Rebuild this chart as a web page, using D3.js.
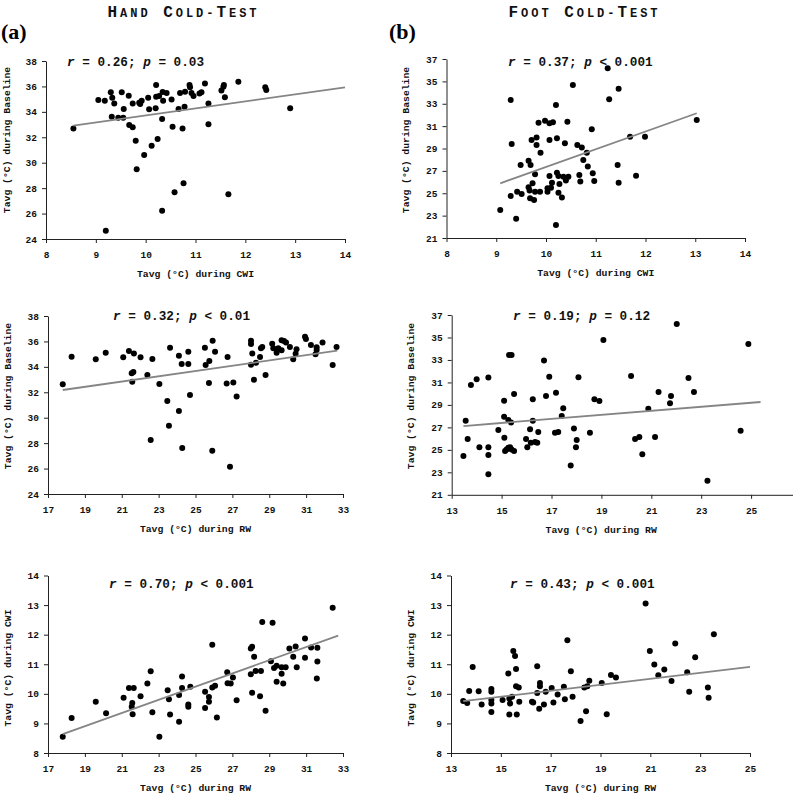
<!DOCTYPE html>
<html><head><meta charset="utf-8">
<script src="https://cdn.jsdelivr.net/npm/d3@7"></script>
<style>body{margin:0;background:#fff}svg{display:block}</style>
</head><body>
<svg id="c" width="793" height="795"></svg>
<script>
// ---------- DATA ----------
const headings = ["Hand Cold-Test", "Foot Cold-Test"];
const panelLetters = ["(a)", "(b)"];
const rValues = ["0.26", "0.37", "0.32", "0.19", "0.70", "0.43"];
const pOps = ["=", "<", "<", "=", "<", "<"];
const pValues = ["0.03", "0.001", "0.01", "0.12", "0.001", "0.001"];
const axisTitles = ["Tavg (°C) during CWI", "Tavg (°C) during Baseline", "Tavg (°C) during RW"];

const ticksCwiX = [8, 9, 10, 11, 12, 13, 14];
const ticksBaseHand = [24, 26, 28, 30, 32, 34, 36, 38];
const ticksBaseFoot = [21, 23, 25, 27, 29, 31, 33, 35, 37];
const ticksRwHand = [17, 19, 21, 23, 25, 27, 29, 31, 33];
const ticksRwFootMid = [13, 15, 17, 19, 21, 23, 25];
const ticksRwFoot = [13, 15, 17, 19, 21, 23, 25];
const ticksCwiY = [8, 9, 10, 11, 12, 13, 14];

// (a) Hand: CWI (x) vs Baseline (y)
const handCwiBase = [[8.55,32.70],[9.05,34.93],[9.18,34.88],[9.30,35.54],[9.33,35.11],[9.37,34.66],[9.52,35.54],[9.66,35.27],[9.32,33.62],[9.45,33.54],[9.55,33.54],[9.56,34.22],[9.67,32.96],[9.74,32.78],[9.74,34.66],[9.87,34.72],[9.92,34.88],[9.89,34.61],[9.80,31.73],[9.82,29.48],[9.97,30.60],[10.05,35.11],[10.07,34.20],[10.20,34.28],[10.21,35.19],[10.21,36.11],[10.27,35.24],[10.34,35.56],[10.35,34.88],[10.42,35.48],[10.33,33.44],[10.24,31.86],[10.12,31.34],[10.33,26.22],[10.52,34.98],[10.54,32.83],[10.58,27.67],[10.66,34.22],[10.69,35.48],[10.76,28.38],[10.74,32.70],[10.78,34.41],[10.79,35.59],[10.88,36.11],[10.89,35.93],[10.92,35.48],[10.96,35.24],[11.08,35.45],[11.12,35.54],[11.19,36.24],[11.26,34.66],[11.26,33.03],[11.52,35.67],[11.56,35.98],[11.57,36.11],[11.59,35.14],[11.66,27.51],[11.86,36.37],[12.40,35.93],[12.42,35.72],[12.90,34.28],[9.20,24.65]];
const fitHandCwiBase = [[8.55,32.91],[14.0,35.93]];

// (b) Foot: CWI (x) vs Baseline (y)
const footCwiBase = [[9.08,23.51],[9.29,33.34],[9.31,29.40],[9.29,24.76],[9.40,22.73],[9.42,25.14],[9.51,24.93],[9.49,27.53],[9.65,27.91],[9.69,27.53],[9.65,25.53],[9.71,29.76],[9.81,29.99],[9.81,29.31],[9.85,31.31],[9.89,28.63],[9.78,26.69],[9.73,25.89],[9.67,25.24],[9.68,24.55],[9.76,24.40],[9.78,25.14],[9.88,25.14],[9.98,31.49],[10.07,31.25],[10.14,31.34],[10.07,29.76],[10.07,26.54],[10.03,25.44],[10.03,25.14],[10.10,25.50],[10.12,25.94],[10.20,32.89],[10.22,29.91],[10.22,26.84],[10.25,26.54],[10.27,25.83],[10.25,25.05],[10.32,24.61],[10.20,22.17],[10.35,26.48],[10.40,26.13],[10.38,29.46],[10.45,26.48],[10.43,31.40],[10.54,34.68],[10.63,29.31],[10.72,29.10],[10.67,26.63],[10.69,26.04],[10.75,27.97],[10.82,28.63],[10.84,27.38],[10.92,30.72],[10.94,26.78],[10.97,26.10],[11.24,36.17],[11.27,33.40],[11.44,27.53],[11.46,34.35],[11.46,25.94],[11.69,30.06],[11.81,26.57],[11.99,30.06],[13.03,31.55]];
const fitFootCwiBase = [[9.08,25.89],[13.03,32.15]];

// Hand: RW (x) vs Baseline (y)
const handRwBase = [[17.80,32.63],[18.28,34.80],[19.59,34.59],[20.13,35.11],[21.08,34.75],[21.39,35.24],[21.66,35.06],[22.02,34.75],[21.54,33.49],[21.63,33.59],[21.57,32.83],[22.39,33.36],[22.66,34.62],[23.04,32.65],[22.57,28.24],[23.47,31.31],[23.62,35.51],[24.10,34.88],[24.25,34.23],[24.61,35.19],[24.61,34.23],[24.10,30.53],[23.56,29.37],[24.28,27.61],[24.70,31.78],[25.51,35.51],[25.55,34.15],[25.75,34.46],[25.93,36.06],[26.06,35.19],[25.73,32.73],[25.91,27.40],[26.74,34.78],[26.69,32.70],[27.05,32.76],[27.23,31.66],[26.87,26.14],[28.01,36.06],[28.01,35.80],[28.08,35.06],[28.01,34.17],[28.28,34.33],[28.17,32.99],[28.50,34.78],[28.55,35.46],[28.62,35.56],[28.80,33.36],[29.16,35.82],[29.22,35.46],[29.40,35.11],[29.49,35.46],[29.67,36.09],[29.80,36.04],[29.91,35.91],[29.67,35.30],[30.12,35.56],[30.30,34.59],[30.43,35.03],[30.48,35.38],[30.94,36.37],[30.99,36.19],[31.26,35.72],[31.57,35.54],[31.57,35.33],[31.51,34.99],[31.89,35.91],[32.44,34.15],[32.65,35.56]];
const fitHandRwBase = [[17.80,32.18],[32.69,35.27]];

// Foot: RW (x) vs Baseline (y)
const footRwBase = [[13.47,24.46],[13.56,27.60],[13.64,25.97],[13.77,30.77],[14.00,31.28],[14.11,25.23],[14.47,31.43],[14.47,25.23],[14.47,24.54],[14.47,22.83],[14.87,26.77],[15.10,29.38],[15.10,27.95],[15.11,26.08],[15.14,24.90],[15.20,25.04],[15.27,27.66],[15.30,33.44],[15.40,33.44],[15.38,27.43],[15.27,25.19],[15.34,25.23],[15.40,25.04],[15.50,29.97],[15.50,24.90],[15.98,25.97],[16.03,25.23],[16.14,26.83],[16.17,25.64],[16.25,29.50],[16.25,27.60],[16.34,25.70],[16.43,25.64],[16.47,26.59],[16.70,32.94],[16.78,29.79],[16.91,31.51],[17.14,26.53],[17.27,26.59],[17.18,30.09],[17.41,28.01],[17.47,28.70],[17.77,23.60],[17.90,26.89],[17.98,25.23],[18.01,25.88],[18.08,31.45],[18.54,26.53],[18.72,29.50],[18.92,29.35],[19.08,34.78],[20.19,31.57],[20.35,25.97],[20.52,26.15],[20.64,24.61],[20.88,28.66],[21.15,26.15],[21.29,30.15],[21.75,29.14],[21.79,29.79],[22.02,36.20],[22.49,31.39],[23.25,22.26],[22.71,30.15],[24.58,26.71],[24.89,34.42]];
const fitFootRwBase = [[13.47,27.12],[25.38,29.26]];

// Hand: RW (x) vs CWI (y)
const handRwCwi = [[17.80,8.55],[18.28,9.18],[19.59,9.73],[20.15,9.34],[21.10,9.87],[21.39,10.20],[21.65,10.20],[21.54,9.56],[21.57,9.69],[21.59,9.31],[22.02,9.92],[22.39,10.35],[22.57,10.76],[22.66,9.38],[23.04,8.55],[23.49,10.12],[23.56,9.82],[23.62,9.30],[24.11,9.96],[24.11,9.06],[24.27,10.59],[24.27,10.20],[24.61,9.64],[24.61,9.56],[24.72,10.24],[25.52,10.07],[25.52,9.52],[25.73,9.89],[25.73,9.73],[25.91,11.66],[25.91,10.21],[26.06,10.27],[26.16,9.20],[26.72,10.73],[26.74,10.36],[26.91,10.35],[27.03,10.55],[27.23,9.78],[28.00,11.53],[28.07,11.59],[28.18,11.25],[28.00,10.66],[28.07,10.04],[28.26,10.77],[28.50,9.92],[28.55,10.77],[28.62,12.43],[28.80,9.43],[29.09,11.10],[29.18,12.40],[29.26,10.87],[29.40,10.95],[29.40,10.41],[29.67,10.90],[29.67,10.68],[29.76,10.35],[29.89,10.90],[30.09,11.53],[30.30,11.25],[30.43,11.60],[30.49,10.90],[30.94,11.87],[30.94,11.22],[31.27,11.57],[31.58,10.52],[31.61,11.56],[31.61,11.09],[32.44,12.91]];
const fitHandRwCwi = [[17.80,8.64],[32.74,11.97]];

// Foot: RW (x) vs CWI (y)
const footRwCwi = [[13.49,9.76],[13.65,9.69],[13.73,10.10],[13.87,10.91],[14.11,10.09],[14.23,9.64],[14.62,10.16],[14.62,10.07],[14.62,9.79],[14.62,9.67],[14.62,9.39],[15.07,9.79],[15.30,10.69],[15.34,9.84],[15.37,9.67],[15.34,9.30],[15.45,9.90],[15.50,11.45],[15.57,11.28],[15.61,10.84],[15.61,10.26],[15.64,9.30],[15.72,10.21],[15.74,9.73],[16.25,9.73],[16.30,9.71],[16.46,10.93],[16.46,10.03],[16.54,9.50],[16.57,10.37],[16.57,10.26],[16.73,9.64],[16.80,10.07],[17.04,10.20],[17.11,9.71],[17.28,9.98],[17.53,10.24],[17.57,9.82],[17.67,11.81],[17.81,10.76],[17.88,9.90],[18.20,9.08],[18.35,10.21],[18.42,9.41],[18.47,10.26],[18.55,10.44],[19.05,10.37],[19.25,9.31],[19.42,10.64],[19.62,10.55],[20.81,13.05],[20.98,11.45],[21.16,10.99],[21.32,10.63],[21.56,10.82],[21.85,10.43],[22.00,11.70],[22.48,10.73],[22.56,10.07],[22.80,11.24],[23.31,10.21],[23.34,9.87],[23.55,12.01]];
const fitFootRwCwi = [[13.49,9.75],[25.0,10.91]];

// ---------- DRAW ----------
const svg = d3.select("#c");
const MONO = "'Liberation Mono','DejaVu Sans Mono',monospace";
const SERIF = "'Liberation Serif','DejaVu Serif',serif";

function smallCaps(str, x, y, big, small, width) {
  const t = svg.append("text").attr("x", x).attr("y", y)
    .attr("text-anchor", "middle").attr("font-family", MONO)
    .attr("font-weight", "bold").attr("fill", "#111")
    .attr("textLength", width).attr("lengthAdjust", "spacing");
  for (const ch of str) {
    const isBig = ch !== ch.toLowerCase() || ch === " ";
    t.append("tspan").attr("font-size", isBig ? big : small).text(ch.toUpperCase());
  }
}
smallCaps(headings[0], 182, 17, 16, 12, 149);
smallCaps(headings[1], 583, 17, 16, 12, 149);

svg.append("text").attr("x", 1).attr("y", 39).attr("font-family", SERIF)
  .attr("font-weight", "bold").attr("font-size", 22).text(panelLetters[0]);
svg.append("text").attr("x", 389).attr("y", 39).attr("font-family", SERIF)
  .attr("font-weight", "bold").attr("font-size", 22).text(panelLetters[1]);

const panels = [
  {data: handCwiBase, fit: fitHandCwiBase, xDom:[8,14], yDom:[24,38], xT: ticksCwiX, yT: ticksBaseHand,
   xr:[46,345], yr:[239,61], xTitle:0, yTitle:1, k:0, rx:67, ry:66, ytx:7, yty:140},
  {data: footCwiBase, fit: fitFootCwiBase, xDom:[8,14], yDom:[21,37], xT: ticksCwiX, yT: ticksBaseFoot,
   xr:[446.5,745], yr:[238,59], xTitle:0, yTitle:1, k:1, rx:508, ry:66, ytx:406, yty:140},
  {data: handRwBase, fit: fitHandRwBase, xDom:[17,33], yDom:[24,38], xT: ticksRwHand, yT: ticksBaseHand,
   xr:[48,343], yr:[494,316], xTitle:2, yTitle:1, k:2, rx:113, ry:320, ytx:8, yty:396},
  {data: footRwBase, fit: fitFootRwBase, xDom:[13,27], yDom:[21,37], xT: ticksRwFootMid, yT: ticksBaseFoot,
   xr:[451.7,801], yr:[494.8,315], xTitle:2, yTitle:1, k:3, rx:513, ry:320, ytx:411, yty:396},
  {data: handRwCwi, fit: fitHandRwCwi, xDom:[17,33], yDom:[8,14], xT: ticksRwHand, yT: ticksCwiY,
   xr:[48,343], yr:[753,575.5], xTitle:2, yTitle:0, k:4, rx:109, ry:588, ytx:8, yty:668},
  {data: footRwCwi, fit: fitFootRwCwi, xDom:[13,25], yDom:[8,14], xT: ticksRwFoot, yT: ticksCwiY,
   xr:[451,750], yr:[753,575.5], xTitle:2, yTitle:0, k:5, rx:510, ry:588, ytx:411, yty:668}
];

function styleAxis(g) {
  g.attr("font-family", MONO).attr("font-size", 9.5).attr("font-weight", "bold");
  g.selectAll(".domain").attr("stroke", "#222").attr("stroke-width", 1);
  g.selectAll(".tick line").attr("stroke", "#222");
  g.selectAll(".tick text").attr("fill", "#111");
}
const intFmt = d3.format("d");

panels.forEach(p => {
  const x = d3.scaleLinear().domain(p.xDom).range(p.xr);
  const y = d3.scaleLinear().domain(p.yDom).range(p.yr);

  const gx = svg.append("g").attr("transform", `translate(0,${p.yr[0]})`)
    .call(d3.axisBottom(x).tickValues(p.xT).tickFormat(intFmt).tickSize(4).tickSizeOuter(0).tickPadding(8));
  styleAxis(gx);
  const gy = svg.append("g").attr("transform", `translate(${p.xr[0]},0)`)
    .call(d3.axisLeft(y).tickValues(p.yT).tickFormat(intFmt).tickSize(4).tickSizeOuter(0).tickPadding(5));
  styleAxis(gy);

  svg.append("g").selectAll("circle").data(p.data).join("circle")
    .attr("cx", d => x(d[0])).attr("cy", d => y(d[1])).attr("r", 3).attr("fill", "#000");

  svg.append("path").datum(p.fit)
    .attr("d", d3.line().x(d => x(d[0])).y(d => y(d[1])))
    .attr("stroke", "#858585").attr("stroke-width", 1.8).attr("fill", "none");

  const t = svg.append("text").attr("x", p.rx).attr("y", p.ry)
    .attr("font-family", MONO).attr("font-size", 12.7).attr("font-weight", "bold").attr("fill", "#111")
    .attr("xml:space", "preserve");
  t.append("tspan").attr("font-style", "italic").text("r");
  t.append("tspan").text(" = " + rValues[p.k] + "; ");
  t.append("tspan").attr("font-style", "italic").text("p");
  t.append("tspan").text(" " + pOps[p.k] + " " + pValues[p.k]);

  const xMid = (p.xr[0] + Math.min(p.xr[1], p.xr[0] + 299)) / 2;
  svg.append("text").attr("x", xMid).attr("y", p.yr[0] + 38).attr("text-anchor", "middle")
    .attr("font-family", MONO).attr("font-size", 9.75).attr("font-weight", "bold").attr("fill", "#111")
    .text(axisTitles[p.xTitle]);
  svg.append("text").attr("transform", `translate(${p.ytx},${p.yty}) rotate(-90)`)
    .attr("text-anchor", "middle").attr("dy", "0.35em")
    .attr("font-family", MONO).attr("font-size", 9.75).attr("font-weight", "bold").attr("fill", "#111")
    .text(axisTitles[p.yTitle]);
});
</script>
</body></html>
